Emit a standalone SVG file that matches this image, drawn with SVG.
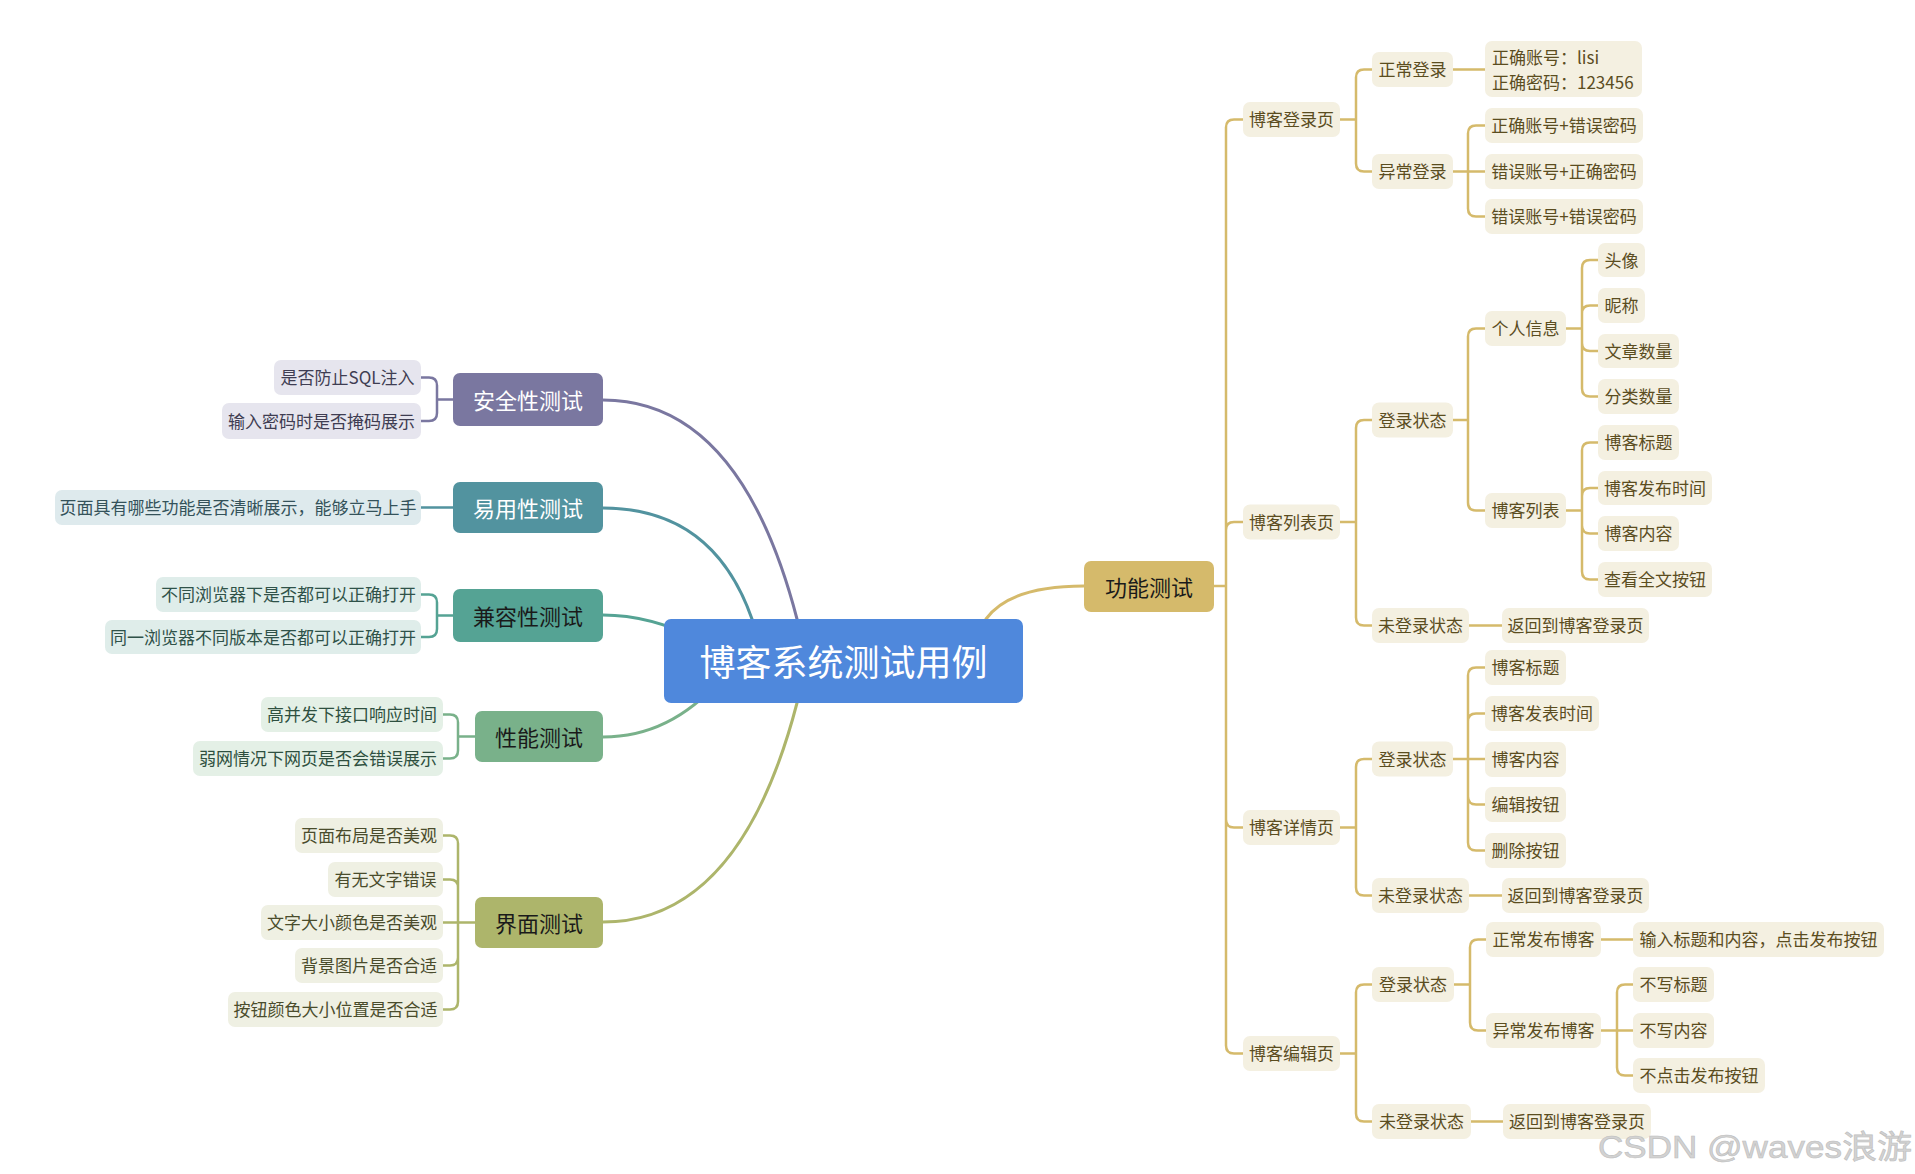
<svg xmlns="http://www.w3.org/2000/svg" width="1915" height="1174" viewBox="0 0 1915 1174">
<style>
text{font-family:"Noto Sans CJK SC","Noto Sans",sans-serif;text-anchor:middle;dominant-baseline:central}
.s{font-size:17px}
.m{font-size:22px}
.g rect{fill:#f4f0e1}
.g text{fill:#5b4d1f}
.p rect{fill:#e6e5ee}
.p text{fill:#3f3d52}
.b rect{fill:#deeaed}
.b text{fill:#34525a}
.c rect{fill:#dfedea}
.c text{fill:#2f5249}
.e rect{fill:#e4f0e6}
.e text{fill:#2f5040}
.o rect{fill:#eff0e3}
.o text{fill:#4a4c2c}
.lg{stroke:#d5ba6b}
.lp{stroke:#7a77a0}
.lb{stroke:#52939f}
.lc{stroke:#55a394}
.le{stroke:#79b18a}
.lo{stroke:#adb56b}
#connectors path{fill:none;stroke-width:2.5;stroke-linecap:round}
#connectors .main{stroke-width:3}
</style>
<rect width="1915" height="1174" fill="#ffffff"/>
<g id="connectors">
<path class="main lp" d="M603,400 Q740,400 797,619 L805,650"/>
<path class="main lb" d="M603,508 Q713,508 752,619 L760,650"/>
<path class="main lc" d="M603,615 Q650,615 700,640"/>
<path class="main le" d="M603,737 Q670,737 720,680"/>
<path class="main lo" d="M603,922 Q740,922 797,703 L805,672"/>
<path class="main lg" d="M1084,586 Q1010,586 986,619 L975,640"/>
<path class="lp" d="M453,399.5 H437 M437,399.5 V385.5 Q437,377.5 429,377.5 H421 M437,399.5 V413 Q437,421 429,421 H421"/>
<path class="lb" d="M453,507.5 H421"/>
<path class="lc" d="M453,615.5 H437 M437,615.5 V602.5 Q437,594.5 429,594.5 H421 M437,615.5 V629 Q437,637 429,637 H421"/>
<path class="le" d="M475,736.5 H458 M458,736.5 V722.5 Q458,714.5 450,714.5 H443 M458,736.5 V750.5 Q458,758.5 450,758.5 H443"/>
<path class="lo" d="M475,922.5 H443 M458,922.5 V843.5 Q458,835.5 450,835.5 H443 M458,922.5 V887.5 Q458,879.5 450,879.5 H443 M458,922.5 V957.5 Q458,965.5 450,965.5 H443 M458,922.5 V1001.5 Q458,1009.5 450,1009.5 H443"/>
<path class="lg" d="M1214,586 H1226 M1226,586 V127.5 Q1226,119.5 1234,119.5 H1243 M1226,586 V530 Q1226,522 1234,522 H1243 M1226,586 V819.5 Q1226,827.5 1234,827.5 H1243 M1226,586 V1045.5 Q1226,1053.5 1234,1053.5 H1243"/>
<path class="lg" d="M1340,119.5 H1356 M1356,119.5 V77.5 Q1356,69.5 1364,69.5 H1372 M1356,119.5 V163.5 Q1356,171.5 1364,171.5 H1372"/>
<path class="lg" d="M1453,69.5 H1485"/>
<path class="lg" d="M1453,171.5 H1485 M1468,171.5 V133.5 Q1468,125.5 1476,125.5 H1485 M1468,171.5 V208.5 Q1468,216.5 1476,216.5 H1485"/>
<path class="lg" d="M1340,522 H1356 M1356,522 V428 Q1356,420 1364,420 H1372 M1356,522 V617.5 Q1356,625.5 1364,625.5 H1372"/>
<path class="lg" d="M1453,420 H1468 M1468,420 V336.5 Q1468,328.5 1476,328.5 H1485 M1468,420 V502.5 Q1468,510.5 1476,510.5 H1485"/>
<path class="lg" d="M1566,328.5 H1582 M1582,328.5 V268 Q1582,260 1590,260 H1598 M1582,328.5 V313.5 Q1582,305.5 1590,305.5 H1598 M1582,328.5 V343 Q1582,351 1590,351 H1598 M1582,328.5 V388.5 Q1582,396.5 1590,396.5 H1598"/>
<path class="lg" d="M1566,510.5 H1582 M1582,510.5 V450.5 Q1582,442.5 1590,442.5 H1598 M1582,510.5 V496 Q1582,488 1590,488 H1598 M1582,510.5 V525.5 Q1582,533.5 1590,533.5 H1598 M1582,510.5 V571.5 Q1582,579.5 1590,579.5 H1598"/>
<path class="lg" d="M1469,625.5 H1502"/>
<path class="lg" d="M1340,827.5 H1356 M1356,827.5 V767 Q1356,759 1364,759 H1372 M1356,827.5 V887.5 Q1356,895.5 1364,895.5 H1372"/>
<path class="lg" d="M1453,759 H1485 M1468,759 V675.5 Q1468,667.5 1476,667.5 H1485 M1468,759 V721.5 Q1468,713.5 1476,713.5 H1485 M1468,759 V796.5 Q1468,804.5 1476,804.5 H1485 M1468,759 V842.5 Q1468,850.5 1476,850.5 H1485"/>
<path class="lg" d="M1469,895.5 H1502"/>
<path class="lg" d="M1340,1053.5 H1356 M1356,1053.5 V992.5 Q1356,984.5 1364,984.5 H1372 M1356,1053.5 V1113.5 Q1356,1121.5 1364,1121.5 H1372"/>
<path class="lg" d="M1454,984.5 H1470 M1470,984.5 V947.5 Q1470,939.5 1478,939.5 H1486 M1470,984.5 V1022.5 Q1470,1030.5 1478,1030.5 H1486"/>
<path class="lg" d="M1601,939.5 H1633"/>
<path class="lg" d="M1601,1030.5 H1633 M1617,1030.5 V992.5 Q1617,984.5 1625,984.5 H1633 M1617,1030.5 V1067.5 Q1617,1075.5 1625,1075.5 H1633"/>
<path class="lg" d="M1471,1121.5 H1503"/>
</g>

<g id="root">
<rect x="664" y="619" width="359" height="84" rx="7" fill="#4f88dc"/>
<text x="843.5" y="660" style="font-size:36px" fill="#ffffff">博客系统测试用例</text>
</g>

<g id="anquan"><rect x="453" y="373" width="150" height="53" rx="7" fill="#7a77a0"/><text class="m" x="528" y="398.5" fill="#ffffff">安全性测试</text></g>
<g id="yiyong"><rect x="453" y="482" width="150" height="51" rx="7" fill="#52939f"/><text class="m" x="528" y="506.5" fill="#ffffff">易用性测试</text></g>
<g id="jianrong"><rect x="453" y="589" width="150" height="53" rx="7" fill="#55a394"/><text class="m" x="528" y="614.5" fill="#1a1a1a">兼容性测试</text></g>
<g id="xingneng"><rect x="475" y="711" width="128" height="51" rx="7" fill="#79b18a"/><text class="m" x="539" y="735.5" fill="#1a1a1a">性能测试</text></g>
<g id="jiemian"><rect x="475" y="897" width="128" height="51" rx="7" fill="#adb56b"/><text class="m" x="539" y="921.5" fill="#1a1a1a">界面测试</text></g>
<g id="gongneng"><rect x="1084" y="561" width="130" height="51" rx="7" fill="#d5ba6b"/><text class="m" x="1149" y="585.5" fill="#1a1a1a">功能测试</text></g>

<g id="sql" class="p"><rect x="274" y="360" width="147" height="35" rx="7"/><text class="s" x="347.5" y="376.5">是否防止SQL注入</text></g>
<g id="mima" class="p"><rect x="222" y="403" width="199" height="36" rx="7"/><text class="s" x="321.5" y="420">输入密码时是否掩码展示</text></g>
<g id="yemian" class="b"><rect x="55" y="490" width="366" height="35" rx="7"/><text class="s" x="238" y="506.5">页面具有哪些功能是否清晰展示，能够立马上手</text></g>
<g id="butong" class="c"><rect x="156" y="577" width="265" height="35" rx="7"/><text class="s" x="288.5" y="593.5">不同浏览器下是否都可以正确打开</text></g>
<g id="tongyi" class="c"><rect x="105" y="620" width="316" height="34" rx="7"/><text class="s" x="263" y="636">同一浏览器不同版本是否都可以正确打开</text></g>
<g id="gaobingfa" class="e"><rect x="261" y="697" width="182" height="35" rx="7"/><text class="s" x="352" y="713.5">高并发下接口响应时间</text></g>
<g id="ruowang" class="e"><rect x="193" y="741" width="250" height="35" rx="7"/><text class="s" x="318" y="757.5">弱网情况下网页是否会错误展示</text></g>
<g id="buju" class="o"><rect x="295" y="818" width="148" height="35" rx="7"/><text class="s" x="369" y="834.5">页面布局是否美观</text></g>
<g id="cuowu" class="o"><rect x="328" y="862" width="115" height="35" rx="7"/><text class="s" x="385.5" y="878.5">有无文字错误</text></g>
<g id="daxiao" class="o"><rect x="261" y="905" width="182" height="35" rx="7"/><text class="s" x="352" y="921.5">文字大小颜色是否美观</text></g>
<g id="beijing" class="o"><rect x="295" y="948" width="148" height="35" rx="7"/><text class="s" x="369" y="964.5">背景图片是否合适</text></g>
<g id="anniu" class="o"><rect x="228" y="992" width="215" height="35" rx="7"/><text class="s" x="335.5" y="1008.5">按钮颜色大小位置是否合适</text></g>

<g id="denglu-ye" class="g"><rect x="1243" y="102" width="97" height="35" rx="7"/><text class="s" x="1291.5" y="118.5">博客登录页</text></g>
<g id="liebiao-ye" class="g"><rect x="1243" y="504.5" width="97" height="35" rx="7"/><text class="s" x="1291.5" y="521">博客列表页</text></g>
<g id="xiangqing-ye" class="g"><rect x="1243" y="810" width="97" height="35" rx="7"/><text class="s" x="1291.5" y="826.5">博客详情页</text></g>
<g id="bianji-ye" class="g"><rect x="1243" y="1036" width="97" height="35" rx="7"/><text class="s" x="1291.5" y="1052.5">博客编辑页</text></g>

<g id="zhengchang-denglu" class="g"><rect x="1372" y="52" width="81" height="35" rx="7"/><text class="s" x="1412.5" y="68.5">正常登录</text></g>
<g id="yichang-denglu" class="g"><rect x="1372" y="154" width="81" height="35" rx="7"/><text class="s" x="1412.5" y="170.5">异常登录</text></g>
<g id="liebiao-denglu" class="g"><rect x="1372" y="402.5" width="81" height="35" rx="7"/><text class="s" x="1412.5" y="419">登录状态</text></g>
<g id="liebiao-weidenglu" class="g"><rect x="1372" y="608" width="97" height="35" rx="7"/><text class="s" x="1420.5" y="624.5">未登录状态</text></g>
<g id="xiangqing-denglu" class="g"><rect x="1372" y="741.5" width="81" height="35" rx="7"/><text class="s" x="1412.5" y="758">登录状态</text></g>
<g id="xiangqing-weidenglu" class="g"><rect x="1372" y="878" width="97" height="35" rx="7"/><text class="s" x="1420.5" y="894.5">未登录状态</text></g>
<g id="bianji-denglu" class="g"><rect x="1372" y="967" width="82" height="35" rx="7"/><text class="s" x="1413" y="983.5">登录状态</text></g>
<g id="bianji-weidenglu" class="g"><rect x="1372" y="1104" width="99" height="35" rx="7"/><text class="s" x="1421.5" y="1120.5">未登录状态</text></g>

<g id="zhanghao" class="g"><rect x="1485" y="41" width="157" height="56" rx="7"/><text class="s" x="1492" y="56.5" style="text-anchor:start">正确账号：lisi</text><text class="s" x="1492" y="81" style="text-anchor:start">正确密码：123456</text></g>
<g id="yc1" class="g"><rect x="1485" y="108" width="158" height="35" rx="7"/><text class="s" x="1564" y="124.5">正确账号+错误密码</text></g>
<g id="yc2" class="g"><rect x="1485" y="154" width="158" height="35" rx="7"/><text class="s" x="1564" y="170.5">错误账号+正确密码</text></g>
<g id="yc3" class="g"><rect x="1485" y="199" width="158" height="35" rx="7"/><text class="s" x="1564" y="215.5">错误账号+错误密码</text></g>
<g id="gerenxinxi" class="g"><rect x="1485" y="311" width="81" height="35" rx="7"/><text class="s" x="1525.5" y="327.5">个人信息</text></g>
<g id="bokeliebiao" class="g"><rect x="1485" y="493" width="81" height="35" rx="7"/><text class="s" x="1525.5" y="509.5">博客列表</text></g>
<g id="fanhui1" class="g"><rect x="1502" y="608" width="147" height="35" rx="7"/><text class="s" x="1575.5" y="624.5">返回到博客登录页</text></g>
<g id="xq-biaoti" class="g"><rect x="1485" y="650" width="81" height="35" rx="7"/><text class="s" x="1525.5" y="666.5">博客标题</text></g>
<g id="xq-shijian" class="g"><rect x="1485" y="696" width="114" height="35" rx="7"/><text class="s" x="1542" y="712.5">博客发表时间</text></g>
<g id="xq-neirong" class="g"><rect x="1485" y="742" width="81" height="35" rx="7"/><text class="s" x="1525.5" y="758.5">博客内容</text></g>
<g id="xq-bianji" class="g"><rect x="1485" y="787" width="81" height="35" rx="7"/><text class="s" x="1525.5" y="803.5">编辑按钮</text></g>
<g id="xq-shanchu" class="g"><rect x="1485" y="833" width="81" height="35" rx="7"/><text class="s" x="1525.5" y="849.5">删除按钮</text></g>
<g id="fanhui2" class="g"><rect x="1502" y="878" width="147" height="35" rx="7"/><text class="s" x="1575.5" y="894.5">返回到博客登录页</text></g>
<g id="zhengchang-fabu" class="g"><rect x="1486" y="922" width="115" height="35" rx="7"/><text class="s" x="1543.5" y="938.5">正常发布博客</text></g>
<g id="yichang-fabu" class="g"><rect x="1486" y="1013" width="115" height="35" rx="7"/><text class="s" x="1543.5" y="1029.5">异常发布博客</text></g>
<g id="fanhui3" class="g"><rect x="1503" y="1104" width="148" height="35" rx="7"/><text class="s" x="1577" y="1120.5">返回到博客登录页</text></g>

<g id="touxiang" class="g"><rect x="1598" y="243" width="47" height="34" rx="7"/><text class="s" x="1621.5" y="259">头像</text></g>
<g id="nicheng" class="g"><rect x="1598" y="288" width="47" height="35" rx="7"/><text class="s" x="1621.5" y="304.5">昵称</text></g>
<g id="wenzhang" class="g"><rect x="1598" y="334" width="81" height="34" rx="7"/><text class="s" x="1638.5" y="350">文章数量</text></g>
<g id="fenlei" class="g"><rect x="1598" y="379" width="81" height="35" rx="7"/><text class="s" x="1638.5" y="395.5">分类数量</text></g>
<g id="lb-biaoti" class="g"><rect x="1598" y="425" width="81" height="35" rx="7"/><text class="s" x="1638.5" y="441.5">博客标题</text></g>
<g id="lb-shijian" class="g"><rect x="1598" y="471" width="114" height="34" rx="7"/><text class="s" x="1655" y="487">博客发布时间</text></g>
<g id="lb-neirong" class="g"><rect x="1598" y="516" width="81" height="35" rx="7"/><text class="s" x="1638.5" y="532.5">博客内容</text></g>
<g id="lb-quanwen" class="g"><rect x="1598" y="562" width="114" height="35" rx="7"/><text class="s" x="1655" y="578.5">查看全文按钮</text></g>
<g id="shuru" class="g"><rect x="1633" y="922" width="251" height="35" rx="7"/><text class="s" x="1758.5" y="938.5">输入标题和内容，点击发布按钮</text></g>
<g id="buxie-biaoti" class="g"><rect x="1633" y="967" width="81" height="35" rx="7"/><text class="s" x="1673.5" y="983.5">不写标题</text></g>
<g id="buxie-neirong" class="g"><rect x="1633" y="1013" width="81" height="35" rx="7"/><text class="s" x="1673.5" y="1029.5">不写内容</text></g>
<g id="budianji" class="g"><rect x="1633" y="1058" width="132" height="35" rx="7"/><text class="s" x="1699" y="1074.5">不点击发布按钮</text></g>

<text x="1598" y="1158" style="font-family:'Liberation Sans','Noto Sans CJK SC',sans-serif;font-size:32px;text-anchor:start;dominant-baseline:auto" textLength="314" lengthAdjust="spacingAndGlyphs" fill="#d2d2d2" stroke="#bdbdbd" stroke-width="0.6">CSDN @waves浪游</text>
</svg>
